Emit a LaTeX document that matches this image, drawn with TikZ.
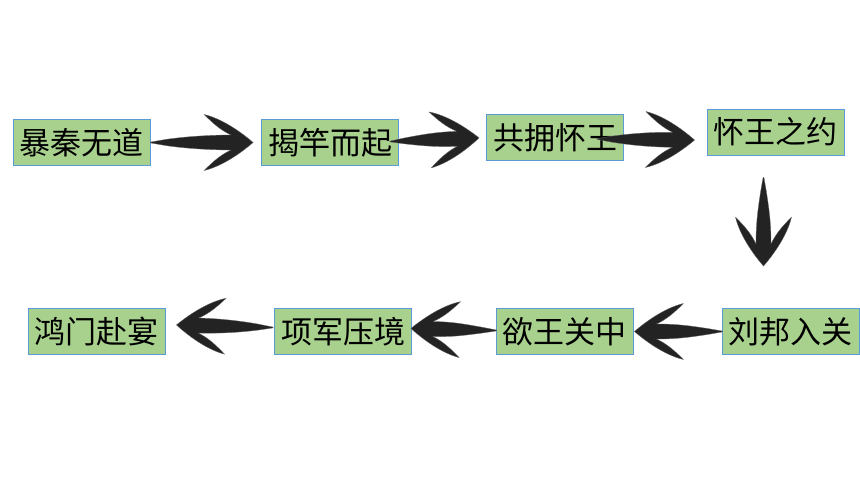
\documentclass[tikz,border=0pt]{standalone}
\usepackage{fontspec}
\setmainfont{Noto Sans CJK SC}
\usetikzlibrary{calc}
\definecolor{boxgreen}{HTML}{A9D18E}
\definecolor{boxblue}{HTML}{5B9BD5}
\definecolor{ink}{HTML}{232323}
\tikzset{
  box/.style={draw=boxblue, line width=0.8pt, fill=boxgreen, minimum width=137pt,
    minimum height=46pt, inner sep=0pt, font=\fontsize{31}{31}\selectfont},
  brushfill/.style={fill=ink, draw=ink!70, line width=0.3pt, line join=round}
}
\newcommand\brush[2]{%
  \path[brushfill] let \p1=#1, \p2=#2,
    \n1={atan2(\y2-\y1,\x2-\x1)}, \n2={veclen(\x2-\x1,\y2-\y1)} in
    [shift={(\p2)}, rotate=\n1]
    (2,0) .. controls (-12,-12) and (-30,-24) .. (-47,-28)
    .. controls (-38,-19) and (-30,-12) .. (-20,-7.5)
    .. controls (-40,-7.5) and (-\n2+35,-6) .. (-\n2+15,-3)
    .. controls (-\n2+8,-1.4) .. (-\n2,-0.4)
    -- (-\n2,0.4) .. controls (-\n2+8,1.4) .. (-\n2+15,3)
    .. controls (-\n2+35,6) and (-40,7.5) .. (-20,7.5)
    .. controls (-30,12) and (-38,19) .. (-47,28)
    .. controls (-30,24) and (-12,12) .. (2,0) -- cycle;%
}
\begin{document}
\begin{tikzpicture}[x=1pt,y=-1pt]
\fill[white] (0,0) rectangle (860,484);
\useasboundingbox (0,0) rectangle (860,484);
\node[box] (b1) at (81.5,142.5) {暴秦无道};
\node[box] (b2) at (330,142.5) {揭竿而起};
\node[box] (b3) at (555,137.5) {共拥怀王};
\node[box] (b4) at (775.5,132) {怀王之约};
\node[box] (b5) at (96.5,331) {鸿门赴宴};
\node[box] (b6) at (343,331.5) {项军压境};
\node[box] (b7) at (564.5,331.5) {欲王关中};
\node[box] (b8) at (790.5,331.5) {刘邦入关};
\brush{(b1.east)}{($(b2.west)+(-10,0)$)}
\brush{($(b2.east)+(-9,-1)$)}{($(b3.west)+(-9,0.5)$)}
\brush{($(b3.east)+(-27,1.5)$)}{($(b4.west)+(-14,8)$)}
\brush{($(b4.south)+(-12,22)$)}{($(b8.north)+(-27,-44)$)}
\brush{($(b8.west)+(1,0)$)}{($(b7.east)+(3,0)$)}
\brush{($(b7.west)+(1,-1)$)}{($(b6.east)+(1,-3)$)}
\brush{($(b6.west)+(-1,-4)$)}{($(b5.east)+(13,-6)$)}
\end{tikzpicture}
\end{document}
